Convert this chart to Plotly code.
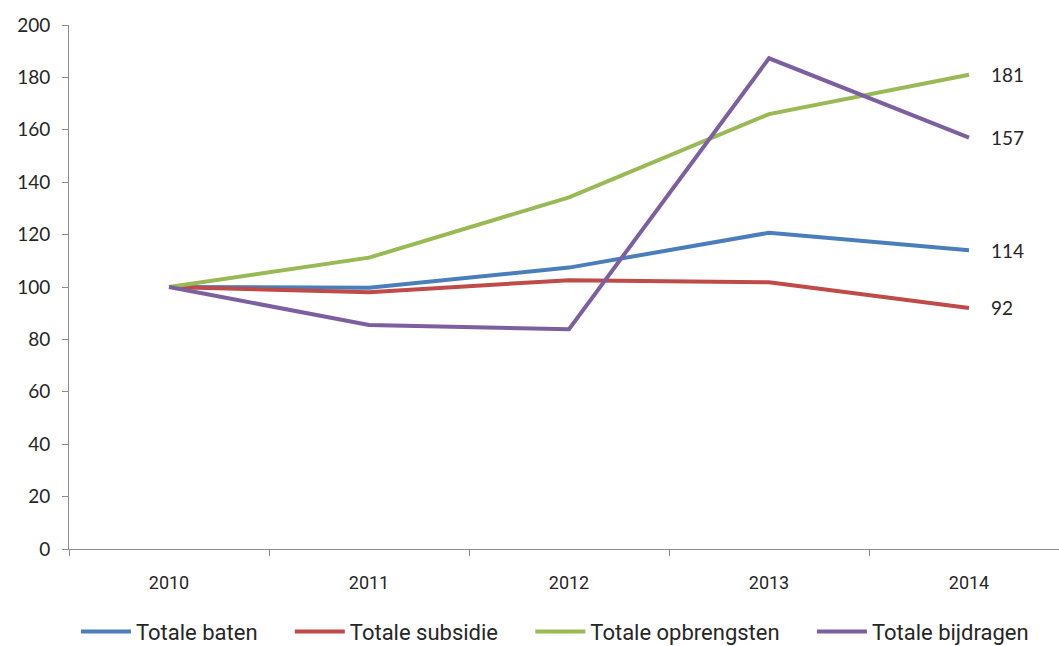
import plotly.graph_objects as go

# Data (index, 2010 = 100)
years = ["2010", "2011", "2012", "2013", "2014"]
totale_baten = [100, 99.7, 107.4, 120.7, 114]
totale_subsidie = [100, 98.0, 102.6, 101.8, 92]
totale_opbrengsten = [100, 111.2, 134.2, 166, 181]
totale_bijdragen = [100, 85.5, 83.9, 187.3, 157]

series = [
    ("Totale baten", totale_baten, "#4A7EBB"),
    ("Totale subsidie", totale_subsidie, "#BE4B48"),
    ("Totale opbrengsten", totale_opbrengsten, "#98B954"),
    ("Totale bijdragen", totale_bijdragen, "#7D5FA0"),
]

text_color = "#262626"
axis_color = "#8C8C8C"

fig = go.Figure()
for name, values, color in series:
    fig.add_trace(go.Scatter(
        x=years,
        y=values,
        name=name + "     ",
        mode="lines",
        line=dict(color=color, width=4),
    ))
    # end-of-line value label (x given as category index)
    fig.add_annotation(
        x=len(years) - 1, y=values[-1],
        text=str(round(values[-1])),
        showarrow=False,
        xanchor="left",
        xshift=20,
        font=dict(family="Lato, Open Sans, sans-serif", size=19, color=text_color),
    )

fig.update_layout(
    width=1059,
    height=646,
    margin=dict(l=69, r=0, t=25, b=97, autoexpand=False),
    plot_bgcolor="#FFFFFF",
    paper_bgcolor="#FFFFFF",
    showlegend=True,
    legend=dict(
        orientation="h",
        x=0.505, xanchor="center",
        y=-0.158, yanchor="middle",
        font=dict(family="Liberation Sans Narrow, Roboto, sans-serif", size=22, color=text_color),
        itemwidth=50,
    ),
)

fig.update_xaxes(
    type="category",
    range=[-0.5, 4.45],
    showline=True,
    linecolor=axis_color,
    linewidth=1,
    ticks="outside",
    tickson="boundaries",
    ticklen=6,
    tickcolor=axis_color,
    ticklabelstandoff=17,
    showgrid=False,
    tickfont=dict(family="Liberation Sans Narrow, Roboto, sans-serif", size=18, color=text_color),
)

fig.update_yaxes(
    range=[0, 200],
    dtick=20,
    showline=True,
    linecolor=axis_color,
    linewidth=1,
    ticks="outside",
    ticklen=6,
    tickcolor=axis_color,
    ticklabelstandoff=8,
    showgrid=False,
    zeroline=False,
    tickfont=dict(family="Lato, Open Sans, sans-serif", size=19, color=text_color),
)

fig.write_html(
    "out.html",
    config={"displayModeBar": False},
    post_script="document.body.style.margin='0';",
)
